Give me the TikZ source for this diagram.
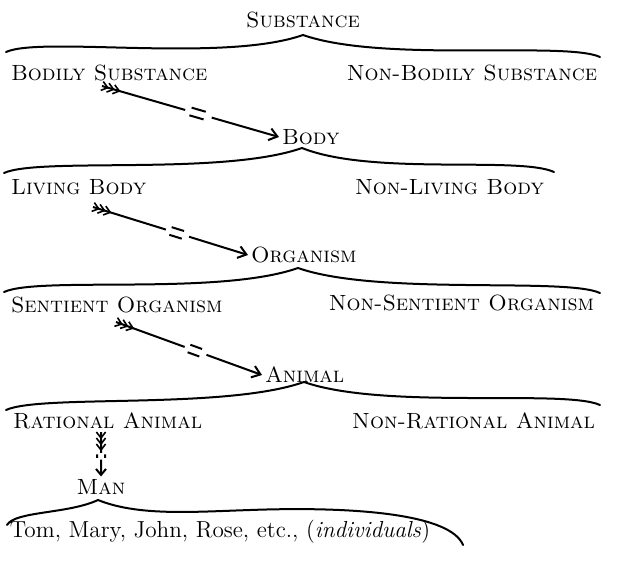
\documentclass[tikz,border=0pt]{standalone}
\usepackage{fontspec}
\usetikzlibrary{calc,arrows.meta,decorations.markings}

\begin{document}
\begin{tikzpicture}[x=0.5pt,y=-0.5pt,
    line width=1pt,
    term/.style = {inner sep=1pt,
      font=\fontsize{11}{13}\selectfont\scshape},
    curly/.style = {line width=1pt, line cap=round},
    fletch/.style = {postaction={decorate,
      decoration={markings,
        mark=at position 3pt with {\draw[-,line width=.8pt] (-3pt,2.3pt) -- (0,0) -- (-3pt,-2.3pt);},
        mark=at position 6pt with {\draw[-,line width=.8pt] (-3pt,2.3pt) -- (0,0) -- (-3pt,-2.3pt);},
        mark=at position 9pt with {\draw[-,line width=.8pt] (-3pt,2.3pt) -- (0,0) -- (-3pt,-2.3pt);}}}},
    split/.style = {fletch, -{Straight Barb[length=4pt,width=6pt]},
      to path={(\tikztostart) -- ($(\tikztostart)!.47!(\tikztotarget)$)
        ($(\tikztostart)!.50!(\tikztotarget)!2pt!90:(\tikztotarget)$) -- ($(\tikztostart)!.58!(\tikztotarget)!2pt!90:(\tikztotarget)$)
        ($(\tikztostart)!.50!(\tikztotarget)!2pt!-90:(\tikztotarget)$) -- ($(\tikztostart)!.58!(\tikztotarget)!2pt!-90:(\tikztotarget)$)
        ($(\tikztostart)!.62!(\tikztotarget)$) -- (\tikztotarget)}}]
  \useasboundingbox (0,0) rectangle (625,567);

  % terms
  \node[term] (sub) at (303,20) {Substance};
  \node[term,anchor=west] (bs) at (8,73) {Bodily Substance};
  \node[term,anchor=east] (nbs) at (600,73) {Non-Bodily Substance};
  \node[term,anchor=west] (body) at (279,137) {Body};
  \node[term,anchor=west] (lb) at (8,187) {Living Body};
  \node[term,anchor=west] (nlb) at (352,187) {Non-Living Body};
  \node[term,anchor=west] (org) at (248,255) {Organism};
  \node[term,anchor=west] (so) at (8,305) {Sentient Organism};
  \node[term,anchor=east] (nso) at (597,303) {Non-Sentient Organism};
  \node[term,anchor=west] (ani) at (262,375) {Animal};
  \node[term,anchor=west] (ra) at (10,421) {Rational Animal};
  \node[term,anchor=east] (nra) at (598,421) {Non-Rational Animal};
  \node[term] (man) at (101,487) {Man};
  \node[term,anchor=west,font=\fontsize{11.6}{14}\selectfont] (tom) at (7,532)
    {Tom, Mary, John, Rose, etc., (\textit{individuals})};

  % braces
  \draw[curly] (6,52) .. controls +(35,-16) and +(-80,28) .. (303,35)
    .. controls +(80,28) and +(-35,-16) .. (600,57);
  \draw[curly] (4,173) .. controls +(35,-16) and +(-80,28) .. (302,148)
    .. controls +(70,28) and +(-35,-16) .. (554,172);
  \draw[curly] (4,292) .. controls +(35,-16) and +(-80,28) .. (298,268)
    .. controls +(80,28) and +(-35,-16) .. (600,293);
  \draw[curly] (6,410) .. controls +(35,-16) and +(-80,28) .. (304,382)
    .. controls +(80,28) and +(-35,-16) .. (600,405);
  \draw[curly] (7,525) .. controls +(8,-14) and +(-30,14) .. (98,500)
    .. controls +(40,16) and +(-60,2) .. (250,510)
    .. controls +(110,-4) and +(-12,-30) .. (463,545);

  % arrows
  \coordinate (t1) at (102,86);
  \coordinate (t2) at (93,207);
  \coordinate (t3) at (116,322);
  \coordinate (t4) at (101,432);
  \draw[split] (t1) to (body.west);
  \draw[split] (t2) to (org.west);
  \draw[split] (t3) to (ani.west);
  \draw[split,-{Straight Barb[length=3pt,width=5pt]}] (t4) to (man.north);
\end{tikzpicture}
\end{document}
